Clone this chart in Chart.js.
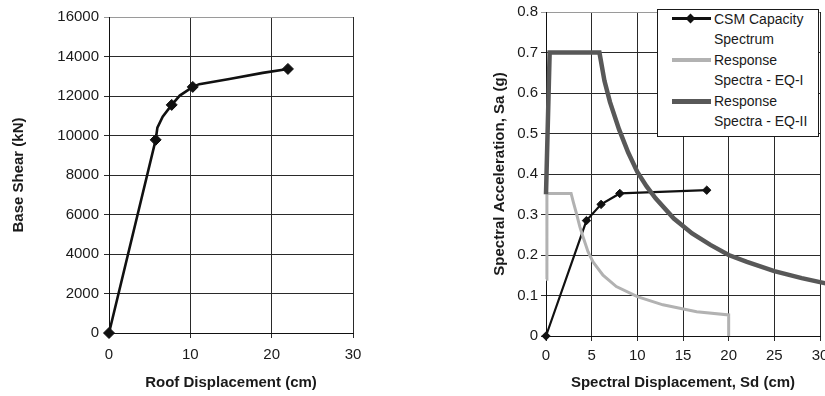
<!DOCTYPE html>
<html>
<head>
<meta charset="utf-8">
<script src="https://cdn.jsdelivr.net/npm/chart.js@4.4.1/dist/chart.umd.min.js"></script>
<style>
  html, body { margin: 0; padding: 0; background: #fff; width: 825px; height: 396px; overflow: hidden; }
  #left { position: absolute; left: 0; top: 0; }
  #right { position: absolute; left: 480px; top: 0; }
  #legend { position: absolute; left: 657px; top: 9px; width: 160px; height: 126px; border: 1px solid #1a1a1a; background: #fff;
            font: 14px "Liberation Sans", Arial, sans-serif; color: #1a1a1a; }
  #legend .txt { position: absolute; left: 56px; line-height: 20.5px; white-space: nowrap; }
  #legend .sw { position: absolute; left: 14px; width: 39px; }
  #legend .dia { position: absolute; width: 7px; height: 7px; background: #111; transform: rotate(45deg); }
</style>
</head>
<body>
<canvas id="left" width="372" height="396"></canvas>
<canvas id="right" width="360" height="396"></canvas>
<div id="legend"></div>
<script>
// pushover curve (left)
const pushDisp  = [0, 5.74, 5.95, 6.6, 7.71, 8.7, 10.3, 11.1, 14.8, 18.9, 22.0]
const pushShear = [0, 9780, 10400, 10950, 11550, 12020, 12460, 12600, 12860, 13170, 13370]
const pushMark  = [1, 1, 0, 0, 1, 0, 1, 0, 0, 0, 1]
const leftXTicks = [0, 10, 20, 30]
const leftYTicks = [0, 2000, 4000, 6000, 8000, 10000, 12000, 14000, 16000]

// capacity spectrum method (right)
const csmSd = [0, 4.43, 6.03, 8.08, 17.6]
const csmSa = [0, 0.285, 0.325, 0.352, 0.36]
const eq1Sd = [0, 0.1, 2.75, 3.0, 3.33, 3.7, 4.05, 4.6, 5.15, 6.24, 7.7, 10, 12.8, 16.5, 20, 20]
const eq1Sa = [0.14, 0.352, 0.352, 0.33, 0.303, 0.27, 0.245, 0.208, 0.183, 0.15, 0.122, 0.097, 0.077, 0.06, 0.052, 0]
const eq2Sd = [0, 0.4, 5.85, 6.4, 7, 8, 9, 10, 11, 12, 14, 16, 18, 20, 22, 25, 28, 31]
const eq2Sa = [0.35, 0.7, 0.7, 0.63, 0.578, 0.51, 0.453, 0.405, 0.37, 0.34, 0.29, 0.253, 0.225, 0.2, 0.183, 0.16, 0.143, 0.128]
const rightXTicks = [0, 5, 10, 15, 20, 25, 30]
const rightYTicks = [0, 0.1, 0.2, 0.3, 0.4, 0.5, 0.6, 0.7, 0.8]
const rightYLabels = ['0', '0.1', '0.2', '0.3', '0.4', '0.5', '0.6', '0.7', '0.8']
const seriesNames = [['CSM Capacity', 'Spectrum'], ['Response', 'Spectra - EQ-I'], ['Response', 'Spectra - EQ-II']]

const FONT = '"Liberation Sans", Arial, sans-serif'
const INK = '#1a1a1a'

const pts = (xs, ys) => xs.map((x, i) => ({ x: x, y: ys[i] }))
const fixTicks = (list) => (s) => { s.ticks = list.map(v => ({ value: v })) }
const gridColor = (top) => (c) => (c.tick && c.tick.value === top ? '#9a9a9a' : '#2a2a2a')

function axis(min, max, ticks, title, opts) {
  return {
    type: 'linear', min: min, max: max,
    afterBuildTicks: fixTicks(ticks),
    afterFit: opts.fit,
    border: { color: '#111', width: 1 },
    grid: { color: gridColor(opts.top), lineWidth: 1, tickLength: 5, drawTicks: true },
    ticks: { font: { family: FONT, size: 15 }, color: INK, padding: opts.pad, autoSkip: false, maxRotation: 0,
             callback: opts.cb || ((v) => String(v)) },
    title: { display: true, text: title, color: INK, font: { family: FONT, size: 15, weight: 'bold' }, padding: { top: 4, bottom: 4 } }
  }
}

new Chart(document.getElementById('left'), {
  type: 'scatter',
  data: {
    datasets: [{
      data: pts(pushDisp, pushShear),
      showLine: true, borderColor: '#111', borderWidth: 2.6, tension: 0,
      pointStyle: 'rectRot', backgroundColor: '#111', pointBorderColor: '#111', pointBorderWidth: 1,
      pointRadius: pushMark.map(m => m ? 5.5 : 0), clip: false
    }]
  },
  options: {
    responsive: false, animation: false, events: [],
    layout: { padding: { left: 6, top: 17, right: 19, bottom: 0 } },
    plugins: { legend: { display: false }, tooltip: { enabled: false } },
    scales: {
      x: axis(0, 30, leftXTicks, 'Roof Displacement (cm)', { top: -1, pad: 8, fit: (s) => { s.height = 63 } }),
      y: axis(0, 16000, leftYTicks, 'Base Shear (kN)', { top: 16000, pad: 5, fit: (s) => { s.width = 103 } })
    }
  }
})

new Chart(document.getElementById('right'), {
  type: 'scatter',
  data: {
    datasets: [
      { data: pts(csmSd, csmSa), showLine: true, borderColor: '#111', borderWidth: 2.2, tension: 0, order: 3,
        pointStyle: 'rectRot', backgroundColor: '#111', pointBorderColor: '#111', pointBorderWidth: 1, pointRadius: 4.2, clip: false },
      { data: pts(eq1Sd, eq1Sa), showLine: true, borderColor: '#b2b2b2', borderWidth: 3, tension: 0, order: 2,
        pointRadius: 0, clip: false },
      { data: pts(eq2Sd, eq2Sa), showLine: true, borderColor: '#585858', borderWidth: 4.5, tension: 0, order: 1,
        pointRadius: 0, clip: false }
    ]
  },
  options: {
    responsive: false, animation: false, events: [],
    layout: { padding: { left: 7, top: 12, right: 20, bottom: 0 } },
    plugins: { legend: { display: false }, tooltip: { enabled: false } },
    scales: {
      x: axis(0, 30, rightXTicks, 'Spectral Displacement, Sd (cm)', { top: -1, pad: 6, fit: (s) => { s.height = 60 } }),
      y: axis(0, 0.8, rightYTicks, 'Spectral Acceleration, Sa (g)', { top: 0.8, pad: 3, fit: (s) => { s.width = 59 },
        cb: (v) => rightYLabels[rightYTicks.findIndex(t => Math.abs(t - v) < 1e-9)] })
    }
  }
})

// legend box with wrapped labels
const legend = document.getElementById('legend')
const swatches = [
  { color: '#111', width: 3, marker: true },
  { color: '#b2b2b2', width: 3.5, marker: false },
  { color: '#585858', width: 5, marker: false }
]
seriesNames.forEach((lines, i) => {
  const mid = 8.8 + i * 41.2
  const txt = document.createElement('div')
  txt.className = 'txt'
  txt.style.top = (mid - 10.25) + 'px'
  txt.innerHTML = lines.join('<br>')
  legend.appendChild(txt)
  const sw = document.createElement('div')
  sw.className = 'sw'
  sw.style.top = (mid - swatches[i].width / 2) + 'px'
  sw.style.height = swatches[i].width + 'px'
  sw.style.background = swatches[i].color
  legend.appendChild(sw)
  if (swatches[i].marker) {
    const d = document.createElement('div')
    d.className = 'dia'
    d.style.left = '29px'
    d.style.top = (mid - 3.5) + 'px'
    legend.appendChild(d)
  }
})
</script>
</body>
</html>
